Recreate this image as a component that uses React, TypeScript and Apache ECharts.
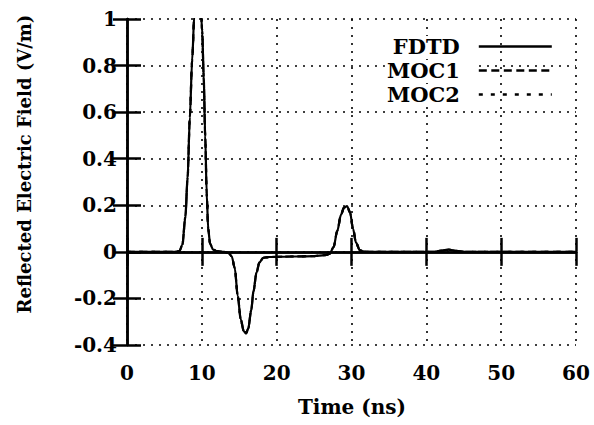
import React, { useEffect, useRef } from "react";
import * as echarts from "echarts";

const timeNs = [0, 6.5, 7.0, 7.4, 7.8, 8.1, 8.4, 8.7, 9.0, 9.4, 9.8, 10.05, 10.25, 10.45, 10.65, 10.85, 11.1, 11.5, 12.0, 13.0, 13.6, 14.0, 14.4, 14.8, 15.2, 15.6, 15.9, 16.2, 16.6, 16.9, 17.3, 17.7, 18.2, 19, 22, 25, 26.5, 27.1, 27.6, 28.1, 28.6, 29.0, 29.4, 29.8, 30.2, 30.6, 31.1, 31.6, 32, 41, 42, 43, 44, 45, 60];
const fdtd = [0, 0, 0.003, 0.03, 0.15, 0.32, 0.58, 0.82, 1.02, 1.12, 1.08, 0.95, 0.75, 0.5, 0.25, 0.1, 0.035, 0.01, 0.003, 0, -0.005, -0.02, -0.07, -0.19, -0.29, -0.34, -0.35, -0.33, -0.25, -0.17, -0.09, -0.045, -0.026, -0.022, -0.02, -0.018, -0.014, -0.008, 0.02, 0.09, 0.16, 0.19, 0.197, 0.17, 0.1, 0.04, 0.008, 0.002, 0, 0, 0.005, 0.01, 0.004, 0, 0];
const moc1 = [0, 0, 0.003, 0.03, 0.15, 0.32, 0.58, 0.82, 1.02, 1.12, 1.08, 0.95, 0.75, 0.5, 0.25, 0.1, 0.035, 0.01, 0.003, 0, -0.005, -0.02, -0.07, -0.19, -0.29, -0.34, -0.35, -0.33, -0.25, -0.17, -0.09, -0.045, -0.026, -0.022, -0.02, -0.018, -0.014, -0.008, 0.02, 0.09, 0.16, 0.19, 0.197, 0.17, 0.1, 0.04, 0.008, 0.002, 0, 0, 0.005, 0.01, 0.004, 0, 0];
const moc2 = [0, 0, 0.003, 0.03, 0.15, 0.32, 0.58, 0.82, 1.02, 1.12, 1.08, 0.95, 0.75, 0.5, 0.25, 0.1, 0.035, 0.01, 0.003, 0, -0.005, -0.02, -0.07, -0.19, -0.29, -0.34, -0.35, -0.33, -0.25, -0.17, -0.09, -0.045, -0.026, -0.022, -0.02, -0.018, -0.014, -0.008, 0.02, 0.09, 0.16, 0.19, 0.197, 0.17, 0.1, 0.04, 0.008, 0.002, 0, 0, 0.005, 0.01, 0.004, 0, 0];

const seriesNames = ["FDTD", "MOC1", "MOC2"];
const xTitle = "Time (ns)";
const yTitle = "Reflected Electric Field (V/m)";

const FONT = "DejaVu Serif";

export default function App() {
  const ref = useRef<HTMLDivElement>(null);
  useEffect(() => {
    if (!ref.current) return;
    const chart = echarts.init(ref.current, null, { renderer: "svg" });
    const mk = (vals: number[]) => timeNs.map((t, i) => [t, vals[i]]);
    const styles: any[] = ["solid", [8, 4.5], [4, 8]];
    const datas = [fdtd, moc1, moc2];
    const gridLine = { show: true, lineStyle: { color: "#000", type: [2, 6] as any, width: 1.6 } };
    const baseAxis = {
      axisLine: { show: true, lineStyle: { color: "#000", width: 2.5 } },
      axisTick: { show: true, inside: true, length: 14, lineStyle: { color: "#000", width: 2.5 } },
    };
    chart.setOption({
      animation: false,
      backgroundColor: "#fff",
      grid: { left: 127, right: 18, top: 19, bottom: 80, containLabel: false },
      xAxis: [
        {
          ...baseAxis,
          type: "value", min: 0, max: 60, interval: 10, position: "bottom",
          splitLine: gridLine,
          axisLabel: { color: "#000", fontFamily: FONT, fontWeight: "bold", fontSize: 20, margin: 18 },
        },
        {
          ...baseAxis,
          type: "value", min: 0, max: 60, interval: 10, position: "top",
          splitLine: { show: false }, axisLabel: { show: false },
        },
      ],
      yAxis: [
        {
          ...baseAxis,
          type: "value", min: -0.4, max: 1, interval: 0.2, position: "left",
          splitLine: gridLine,
          axisLabel: { color: "#000", fontFamily: FONT, fontWeight: "bold", fontSize: 20, margin: 10 },
        },
        {
          ...baseAxis,
          type: "value", min: -0.4, max: 1, interval: 0.2, position: "right",
          splitLine: { show: false }, axisLabel: { show: false },
        },
      ],
      legend: {
        orient: "vertical",
        right: 41,
        top: 36,
        padding: 0,
        align: "right",
        itemWidth: 73,
        itemHeight: 14,
        itemGap: 3,
        data: seriesNames,
        itemStyle: { opacity: 0, borderWidth: 0 },
        lineStyle: { width: 2.4 },
        textStyle: { color: "#000", fontFamily: FONT, fontWeight: "bold", fontSize: 21, backgroundColor: "#fff", padding: [0, 14, 0, 2] },
      },
      graphic: [
        {
          type: "text", x: 24, y: 164, rotation: Math.PI / 2,
          style: { text: yTitle, fill: "#000", font: `bold 18px "${FONT}"`, textAlign: "center", textVerticalAlign: "middle" },
        },
        {
          type: "text", x: 352, y: 407,
          style: { text: xTitle, fill: "#000", font: `bold 20px "${FONT}"`, textAlign: "center", textVerticalAlign: "middle" },
        },
      ],
      series: seriesNames.map((name, i) => ({
        name,
        type: "line",
        data: mk(datas[i]),
        symbol: "none",
        smooth: 0.3,
        smoothMonotone: "x",
        clip: true,
        lineStyle: { color: "#000", width: 2.2, type: styles[i] },
        itemStyle: { color: "#000" },
      })),
    });
    return () => chart.dispose();
  }, []);
  return <div ref={ref} style={{ width: 594, height: 425, position: "absolute", left: 0, top: 0 }} />;
}
